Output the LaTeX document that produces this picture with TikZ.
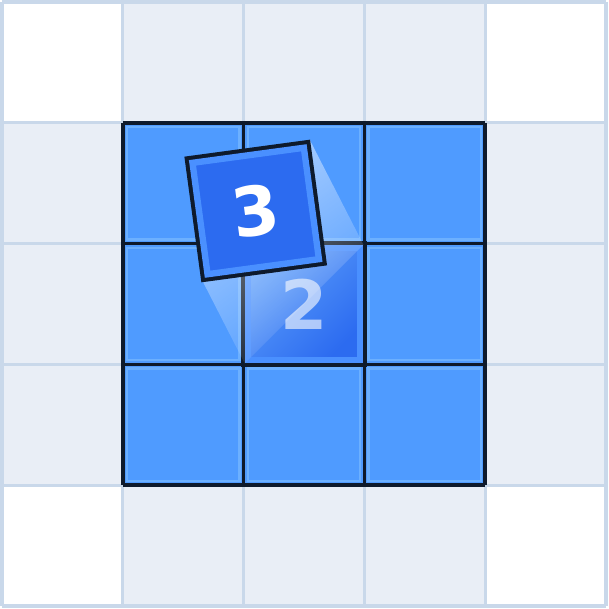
\documentclass[tikz,border=0pt]{standalone}
\usepackage{fontspec}
\setsansfont{DejaVu Sans}
\usepackage{xcolor}
\usetikzlibrary{fadings}
\definecolor{cellbg}{HTML}{E9EEF6}
\definecolor{gridln}{HTML}{C9D8EA}
\definecolor{boardblue}{HTML}{4F9BFF}
\definecolor{boardrim}{HTML}{6CB0FF}
\definecolor{inkdark}{HTML}{0E1A2C}
\definecolor{tileblue}{HTML}{2C6BF0}
\definecolor{tilerim}{HTML}{4A90FF}
\definecolor{tilelight}{HTML}{5C9EFA}
\tikzfading[name=trailfade, top color=transparent!45, bottom color=transparent!100]
\tikzset{
  ringline/.style={draw=gridln, line width=0.75pt},
  boardline/.style={draw=inkdark, line width=0.8pt},
  cellrim/.style={draw=boardrim, line width=0.6pt},
  tile/.style={rectangle, inner sep=0pt, minimum size={1.05cm-3.4pt},
               draw=tilerim, line width=1.5pt,
               preaction={draw=inkdark, line width=3.4pt},
               font=\sffamily\bfseries\fontsize{16}{19}\selectfont, text=white},
  trail/.style={fill=white, path fading=trailfade, fading angle=27.5},
}
\begin{document}
\begin{tikzpicture}
\useasboundingbox (-0.017,-0.025) rectangle (5.017,5.017);
% outer ring of cells
\fill[cellbg] (0,0) rectangle (5,5);
\foreach \c in {(0,0),(4,0),(0,4),(4,4)}
  \fill[white] \c rectangle ++(1,1);
\draw[ringline] (0,0) grid (5,5);
% board
\fill[boardblue] (1,1) rectangle (4,4);
\foreach \i in {1,2,3}
  \foreach \j in {1,2,3}
    \draw[cellrim] (\i+0.035,\j+0.035) rectangle (\i+0.965,\j+0.965);
\draw[boardline] (1,1) grid (4,4);
% tiles
\node[tile, top color=tilelight, bottom color=tileblue, shading angle=45,
      text opacity=0.6] (t2) at (2.5,2.5) {2};
\fill[trail] (1.66,2.69) -- (2.548,3.858) -- (t2.north east) -- (t2.south west) -- cycle;
\node[tile, fill=tileblue, rotate=7.7] (t3) at (2.10,3.27) {3};
\end{tikzpicture}
\end{document}
